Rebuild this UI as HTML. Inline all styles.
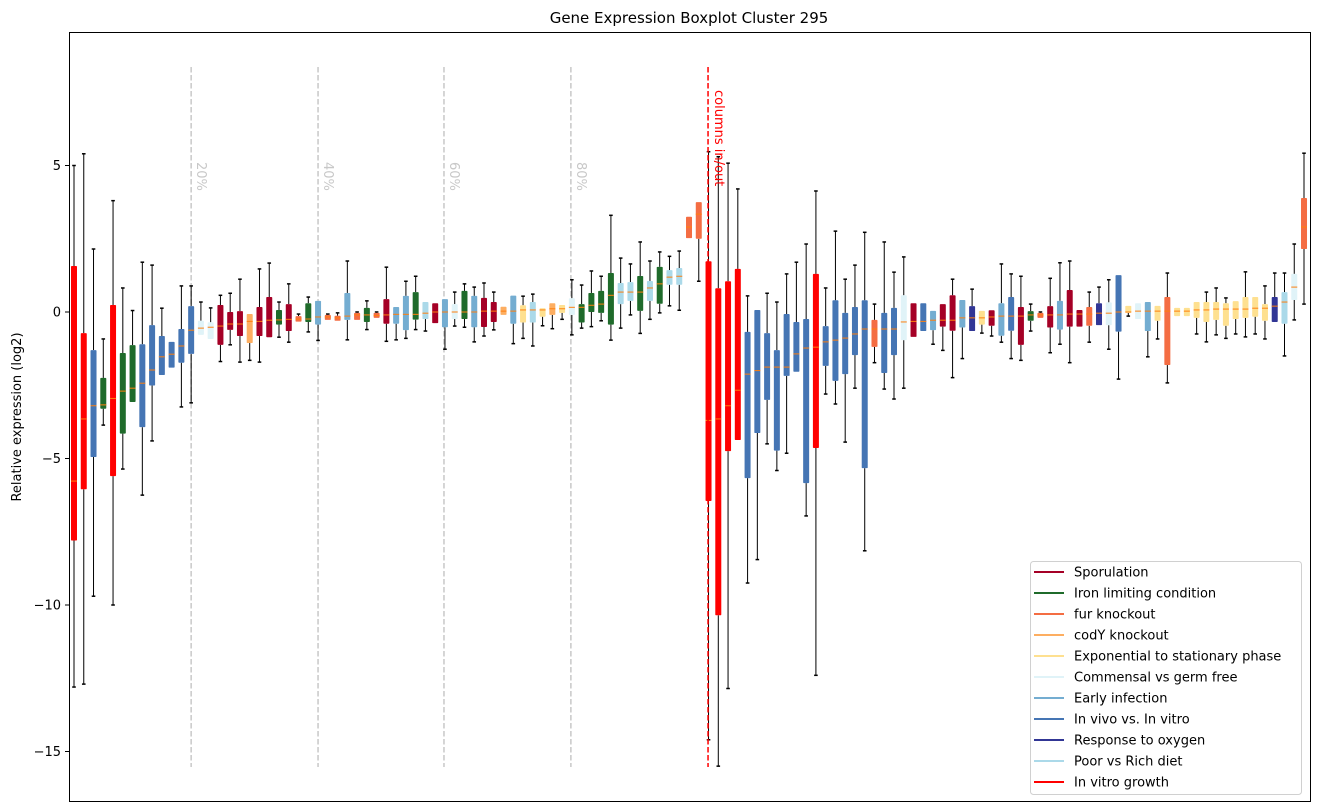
<!DOCTYPE html>
<html><head><meta charset="utf-8"><style>
html,body{margin:0;padding:0;background:#fff;}
svg{display:block;font-family:"DejaVu Sans","Liberation Sans",sans-serif;}
</style></head><body>
<svg id="chart" width="1318" height="812" viewBox="0 0 1318 812" xmlns="http://www.w3.org/2000/svg">
<rect x="0" y="0" width="1318" height="812" fill="#fff"/>
<text x="689" y="23" font-size="15" text-anchor="middle" fill="#000">Gene Expression Boxplot Cluster 295</text>
<text transform="translate(21,417) rotate(-90)" font-size="13" text-anchor="middle" fill="#000">Relative expression (log2)</text>
<g id="marks"></g>
<rect x="69.5" y="32.5" width="1241" height="769" fill="none" stroke="#000" stroke-width="1"/>
<g id="yaxis"></g>
<g id="legend"></g>
</svg>
<script>
const groupNames = ["Sporulation","Iron limiting condition","fur knockout","codY knockout","Exponential to stationary phase","Commensal vs germ free","Early infection","In vivo vs. In vitro","Response to oxygen","Poor vs Rich diet","In vitro growth"];
const groupColors = ["#a50026","#1f6b2b","#f46d43","#fdae61","#fee090","#e0f3f8","#74add1","#4575b4","#313695","#abd9e9","#ff0000"];
// group code per box: S I F C E M R V O P G
const boxGroups = "GGVIGIIVVVVVVMMSSSCSSISFIRFFRFIFSRRIPSRMIRSSCREPECEMIIIIPPIPIPPFFGGGGVVVVVVVGVVVVVFVVMSVRSSROESRVSIFSRSSFOMVEMREFEEEEEEEEEEOPMF";
const whiskerHigh = [5.0,5.4,2.15,-0.92,3.8,0.82,0.05,1.7,1.6,0.13,-1.02,0.89,0.89,0.34,0.14,0.57,0.64,1.12,-0.07,1.47,1.67,0.34,0.96,-0.07,0.51,0.38,-0.07,-0.03,1.74,0,0.38,0,1.53,0.17,1.05,1.22,0.34,0.3,0.44,0.68,0.96,0.85,0.99,0.68,0.18,0.56,0.54,0.61,0.13,0.3,0.24,1.1,0.92,1.4,1.22,3.3,1.84,1.64,2.39,1.74,2.05,1.9,2.08,3.25,3.75,5.47,5.3,5.08,4.2,0.55,0.07,0.64,0.34,1.3,1.7,2.32,4.13,0.82,2.76,1.12,1.6,2.72,0.27,2.39,1.36,1.88,0.3,0.3,0.04,0.27,1.12,0.41,0.78,0.04,0.06,1.64,1.3,1.22,0.27,0,1.15,1.68,1.74,0.07,0.68,0.85,1.1,1.26,0.21,0.3,0.34,0.21,1.33,0.14,0.14,0.34,0.68,0.82,0.48,0.37,1.37,0.51,0.89,1.33,1.33,2.32,5.42];
const q3 = [1.57,-0.72,-1.3,-2.25,0.24,-1.4,-1.13,-1.1,-0.45,-0.82,-1.02,-0.58,0.2,-0.3,-0.35,0.24,0,0.03,-0.07,0.17,0.51,0.07,0.27,-0.14,0.3,0.38,-0.1,-0.13,0.65,-0.03,0.14,-0.03,0.44,0.17,0.55,0.68,0.34,0.3,0.44,0.27,0.72,0.55,0.48,0.34,0.18,0.56,0.23,0.34,0.13,0.3,0.24,0.47,0.27,0.65,0.72,1.33,0.99,1.02,1.23,1.06,1.54,1.43,1.5,3.25,3.75,1.73,0.81,1.05,1.47,-0.68,0.07,-0.72,-1.3,-0.07,-0.34,-0.24,1.3,-0.48,0.4,-0.03,0.17,0.4,-0.27,-0.03,0.14,0.57,0.3,0.3,0.04,0.27,0.57,0.41,0.2,0.04,0.06,0.3,0.51,0.17,0.03,-0.03,0.2,0.38,0.75,0.07,0.17,0.3,0.33,1.26,0.21,0.3,0.34,0.21,0.51,0.14,0.14,0.34,0.34,0.34,0.3,0.37,0.51,0.51,0.27,0.51,0.68,1.3,3.89];
const medians = [-5.77,-3.65,-3.2,-3.17,-2.95,-2.7,-2.6,-2.43,-1.98,-1.53,-1.44,-1.16,-0.62,-0.55,-0.52,-0.48,-0.41,-0.41,-0.32,-0.32,-0.28,-0.27,-0.25,-0.24,-0.24,-0.17,-0.17,-0.2,-0.14,-0.1,-0.1,-0.12,-0.1,-0.08,-0.08,-0.08,-0.04,0,0,0,0,0,0.03,0.03,0.03,0.03,0.07,0.07,0.07,0.11,0.11,0.16,0.16,0.23,0.27,0.57,0.68,0.68,0.68,0.82,0.96,1.19,1.22,2.9,3.34,-3.7,-3.65,-3.2,-2.67,-2.12,-2.0,-1.88,-1.88,-1.88,-1.43,-1.23,-1.2,-1.02,-0.96,-0.89,-0.75,-0.58,-0.58,-0.58,-0.58,-0.34,-0.32,-0.32,-0.28,-0.28,-0.28,-0.2,-0.2,-0.2,-0.17,-0.14,-0.14,-0.14,-0.1,-0.1,-0.1,-0.1,-0.07,-0.07,-0.07,-0.04,-0.04,0,0,0.03,0.03,0.03,0.03,0.03,0.03,0.07,0.07,0.1,0.1,0.1,0.1,0.13,0.13,0.2,0.34,0.85,2.9];
const q1 = [-7.8,-6.05,-4.95,-3.3,-5.6,-4.15,-3.07,-3.93,-2.51,-2.15,-1.9,-1.73,-1.43,-0.78,-0.92,-1.12,-0.61,-0.82,-1.06,-0.82,-0.86,-0.43,-0.65,-0.33,-0.34,-0.43,-0.27,-0.3,-0.27,-0.27,-0.34,-0.2,-0.4,-0.4,-0.62,-0.26,-0.24,-0.38,-0.52,-0.24,-0.24,-0.52,-0.51,-0.34,-0.1,-0.4,-0.36,-0.36,-0.16,-0.1,-0.03,-0.1,-0.36,0,-0.03,-0.43,0.27,0.38,0.04,0.38,0.28,0.93,0.93,2.52,2.5,-6.45,-10.35,-4.75,-4.37,-5.67,-4.13,-3.0,-4.73,-2.18,-2.04,-5.84,-4.64,-1.84,-2.35,-2.12,-1.47,-5.33,-1.19,-2.08,-1.47,-0.96,-0.85,-0.65,-0.62,-0.5,-0.64,-0.53,-0.65,-0.43,-0.47,-0.81,-0.64,-1.12,-0.3,-0.2,-0.53,-0.6,-0.5,-0.5,-0.47,-0.45,-0.45,-0.67,-0.03,-0.24,-0.65,-0.3,-1.81,-0.14,-0.14,-0.2,-0.34,-0.27,-0.47,-0.24,-0.2,-0.16,-0.3,-0.34,-0.4,0.41,2.15];
const whiskerLow = [-12.8,-12.7,-9.7,-3.86,-10.0,-5.36,-3.07,-6.25,-4.4,-2.15,-1.9,-3.24,-3.1,-0.78,-0.92,-1.69,-1.12,-1.71,-1.65,-1.71,-0.86,-0.86,-1.03,-0.33,-0.68,-0.97,-0.27,-0.3,-0.95,-0.27,-0.6,-0.2,-1.0,-0.95,-0.9,-0.6,-0.65,-0.38,-1.27,-0.48,-0.52,-1.02,-0.82,-0.61,-0.1,-1.08,-0.9,-1.16,-0.47,-0.57,-0.25,-0.78,-0.55,-0.5,-0.3,-0.96,-0.55,-0.1,-0.73,-0.25,-0.03,0.21,0.06,2.52,1.05,-14.6,-15.5,-12.85,-4.37,-9.25,-8.45,-4.5,-5.41,-4.82,-2.04,-6.96,-12.4,-2.8,-3.14,-4.44,-2.6,-8.15,-1.73,-2.63,-2.97,-2.6,-0.85,-0.65,-1.1,-1.31,-2.24,-1.59,-0.65,-0.72,-0.82,-1.03,-1.59,-1.65,-0.65,-0.2,-1.39,-1.1,-1.73,-0.5,-1.03,-0.45,-1.27,-2.29,-0.14,-0.24,-1.53,-0.92,-2.42,-0.14,-0.14,-0.75,-1.02,-0.78,-0.9,-0.75,-0.85,-0.75,-0.92,-0.34,-1.5,-0.27,0.27];
const yTicks = [5,0,-5,-10,-15];
const yTickLabels = ["5","0","\u22125","\u221210","\u221215"];
const percentPositions = [12,25,37.9,50.9];
const percentLabels = ["20%","40%","60%","80%"];
const splitPosition = 64.95;

const codeMap = {S:0,I:1,F:2,C:3,E:4,M:5,R:6,V:7,O:8,P:9,G:10};
const NS = "http://www.w3.org/2000/svg";
const step = 9.762;
function xScale(i){ return 74 + i*step; }
function yScale(v){ return 312 - v*29.3; }
function mk(tag, attrs, parent){
  const e = document.createElementNS(NS, tag);
  for (const k in attrs) e.setAttribute(k, attrs[k]);
  parent.appendChild(e);
  return e;
}
const marks = document.getElementById('marks');
const yTop = 67, yBot = 767;

percentPositions.forEach((p, k) => {
  const x = xScale(p);
  const l = mk('line', {x1:x, x2:x, y1:yTop, y2:yBot, stroke:'#c8c8c8', 'stroke-width':1.5, 'stroke-dasharray':'5.5,2.5'}, marks);
  
  
  const t = mk('text', {transform:`translate(${x+6},162) rotate(90)`, 'font-size':13, fill:'#c8c8c8'}, marks);
  t.textContent = percentLabels[k];
  
  
});

const bw = 6;
for (let i = 0; i < medians.length; i++) {
  const g = codeMap[boxGroups[i]];
  const col = groupColors[g];
  const x = xScale(i);
  const grp = mk('g', {}, marks);
  
  
  const yh = yScale(whiskerHigh[i]), y3 = yScale(q3[i]), ym = yScale(medians[i]), y1 = yScale(q1[i]), yl = yScale(whiskerLow[i]);
  if (yh < y3 - 0.5) {
    mk('line', {x1:x, x2:x, y1:yh, y2:y3, stroke:'#000', 'stroke-width':1}, grp);
    mk('line', {x1:x-1.8, x2:x+1.8, y1:yh, y2:yh, stroke:'#000', 'stroke-width':1.5}, grp);
  }
  if (yl > y1 + 0.5) {
    mk('line', {x1:x, x2:x, y1:y1, y2:yl, stroke:'#000', 'stroke-width':1}, grp);
    mk('line', {x1:x-1.8, x2:x+1.8, y1:yl, y2:yl, stroke:'#000', 'stroke-width':1.5}, grp);
  }
  mk('rect', {x:x-bw/2, y:y3, width:bw, height:Math.max(1.5, y1-y3), fill:col, rx:0.8}, grp);
  mk('line', {x1:x-bw/2, x2:x+bw/2, y1:ym, y2:ym, stroke:'#ff7f0e', 'stroke-width':1}, grp);
}

const sx = xScale(splitPosition);
const sl = mk('line', {x1:sx, x2:sx, y1:yTop, y2:yBot, stroke:'#ff0000', 'stroke-width':1.5, 'stroke-dasharray':'5.5,2.5'}, marks);


const st = mk('text', {transform:`translate(${sx+7},90) rotate(90)`, 'font-size':13, fill:'#ff0000'}, marks);
st.textContent = 'columns in/out';



const ya = document.getElementById('yaxis');
yTicks.forEach((v, k) => {
  const y = yScale(v);
  mk('line', {x1:65, x2:69.5, y1:y, y2:y, stroke:'#000', 'stroke-width':1}, ya);
  const t = mk('text', {x:61, y:y+4.5, 'font-size':13, 'text-anchor':'end', fill:'#000'}, ya);
  t.textContent = yTickLabels[k];
  
  
});

const lg = document.getElementById('legend');


mk('rect', {x:1030.5, y:561.5, width:271, height:233, rx:3, fill:'#fff', 'fill-opacity':0.85, stroke:'#d0d0d0', 'stroke-width':1}, lg);
groupNames.forEach((n, k) => {
  const y = 572 + k*21;
  const e = mk('g', {}, lg);
  
  
  mk('line', {x1:1034, x2:1064, y1:y, y2:y, stroke:groupColors[k], 'stroke-width':2}, e);
  const t = mk('text', {x:1074, y:y+4.5, 'font-size':13, fill:'#000'}, e);
  t.textContent = n;
});
</script>
</body></html>
